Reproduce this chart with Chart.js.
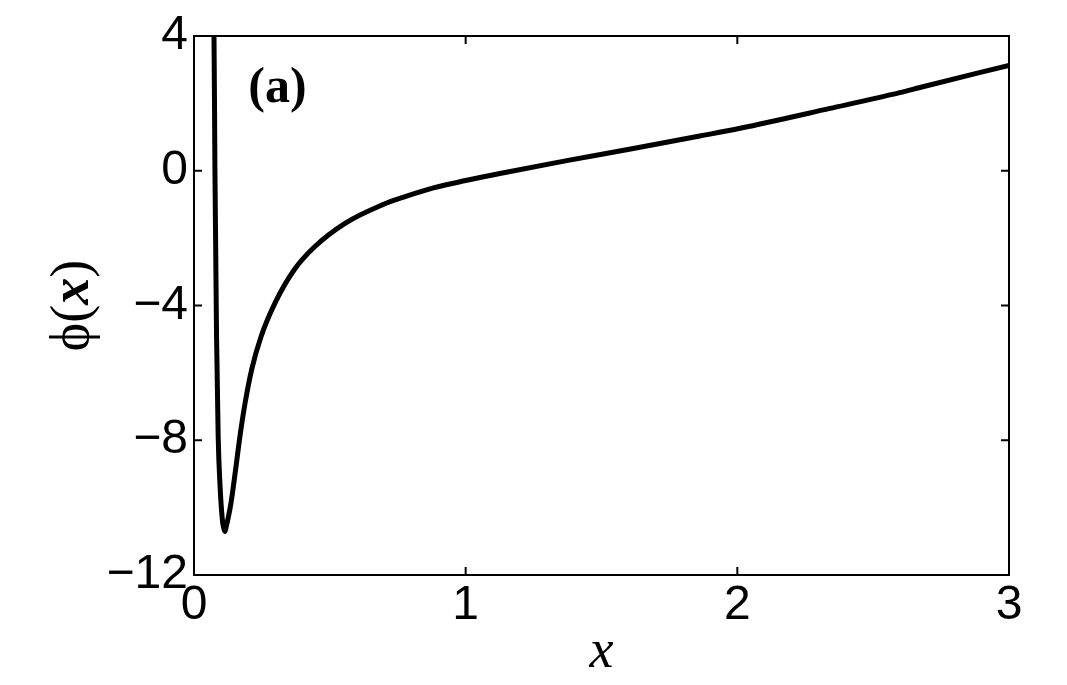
<!DOCTYPE html>
<html>
<head>
<meta charset="utf-8">
<script src="https://cdn.jsdelivr.net/npm/chart.js@4.4.1/dist/chart.umd.min.js"></script>
<style>
  body { margin: 0; background: #fff; }
  #wrap { width: 1067px; height: 685px; }
</style>
</head>
<body>
<div id="wrap"><canvas id="phiChart" width="1067" height="685"></canvas></div>
<script>
// values
const xValues = [0.0715, 0.0736, 0.0755, 0.077, 0.080, 0.083, 0.089, 0.096, 0.104, 0.109,
  0.114, 0.119, 0.126, 0.136, 0.153, 0.169, 0.188, 0.212, 0.247, 0.298, 0.369, 0.445,
  0.556, 0.691, 0.777, 0.881, 1.0, 1.126, 1.372, 1.617, 1.862, 2.01, 2.341, 2.598, 2.672, 3.0];
const phiValues = [6, 4, 2, 0.06, -2.4, -4.92, -7.89, -9.37, -10.33, -10.6,
  -10.71, -10.55, -10.3, -9.87, -8.88, -7.89, -6.9, -5.91, -4.92, -3.93, -2.94, -2.25,
  -1.56, -1.02, -0.77, -0.51, -0.29, -0.08, 0.30, 0.66, 1.03, 1.26, 1.85, 2.32, 2.47, 3.13];
const xTicks = [0, 1, 2, 3];
const yTicks = [4, 0, -4, -8, -12];
const panelLabel = "(a)";

const framePlugin = {
  id: "frame",
  afterDraw(chart) {
    const ctx = chart.ctx;
    const area = chart.chartArea;
    const xs = chart.scales.x;
    const ys = chart.scales.y;
    ctx.save();
    ctx.strokeStyle = "#000";
    ctx.lineWidth = 2;
    ctx.strokeRect(area.left, area.top, area.right - area.left, area.bottom - area.top);
    ctx.beginPath();
    xTicks.forEach((v) => {
      const px = xs.getPixelForValue(v);
      ctx.moveTo(px, area.bottom);
      ctx.lineTo(px, area.bottom - 8);
      ctx.moveTo(px, area.top);
      ctx.lineTo(px, area.top + 8);
    });
    yTicks.forEach((v) => {
      const py = ys.getPixelForValue(v);
      ctx.moveTo(area.left, py);
      ctx.lineTo(area.left + 8, py);
      ctx.moveTo(area.right, py);
      ctx.lineTo(area.right - 8, py);
    });
    ctx.stroke();

    ctx.fillStyle = "#000";
    // panel label
    ctx.font = "bold 50px 'Liberation Serif'";
    ctx.textAlign = "left";
    ctx.textBaseline = "alphabetic";
    ctx.fillText(panelLabel, xs.getPixelForValue(0.2), ys.getPixelForValue(2.05));

    // x axis title
    ctx.font = "italic 54px 'Liberation Serif'";
    ctx.textAlign = "center";
    ctx.fillText("x", (area.left + area.right) / 2, 667);

    // y axis title, mixed fonts
    const parts = [
      ["ϕ", "54px 'Liberation Serif', 'DejaVu Serif'"],
      ["(", "54px 'Liberation Serif'"],
      ["x", "bold italic 54px 'Liberation Serif'"],
      [")", "54px 'Liberation Serif'"],
    ];
    let total = 0;
    parts.forEach((p) => { ctx.font = p[1]; total += ctx.measureText(p[0]).width; });
    ctx.translate(88, (area.top + area.bottom) / 2);
    ctx.rotate(-Math.PI / 2);
    ctx.textAlign = "left";
    let cx = -total / 2;
    parts.forEach((p) => {
      ctx.font = p[1];
      ctx.fillText(p[0], cx, 0);
      cx += ctx.measureText(p[0]).width;
    });
    ctx.restore();
  },
};

new Chart(document.getElementById("phiChart"), {
  type: "line",
  data: {
    datasets: [{
      data: xValues.map((x, i) => ({ x: x, y: phiValues[i] })),
      borderColor: "#000",
      borderWidth: 5,
      pointRadius: 0,
      fill: false,
      cubicInterpolationMode: "monotone",
      clip: 0,
    }],
  },
  options: {
    responsive: false,
    animation: false,
    layout: { padding: { left: 0, top: 36, right: 58, bottom: 0 } },
    plugins: { legend: { display: false }, tooltip: { enabled: false } },
    scales: {
      x: {
        type: "linear",
        min: 0,
        max: 3,
        afterFit: (scale) => { scale.height = 110; },
        grid: { display: false, drawTicks: false },
        border: { display: false },
        ticks: {
          stepSize: 1,
          padding: 2,
          color: "#000",
          font: { family: "'Liberation Sans'", size: 48 },
        },
      },
      y: {
        type: "linear",
        min: -12,
        max: 4,
        afterFit: (scale) => { scale.width = 194; },
        grid: { display: false, drawTicks: false },
        border: { display: false },
        ticks: {
          stepSize: 4,
          padding: 6,
          color: "#000",
          font: { family: "'Liberation Sans'", size: 48 },
          callback: (v) => String(v).replace("-", "\u2212"),
        },
      },
    },
  },
  plugins: [framePlugin],
});
</script>
</body>
</html>
